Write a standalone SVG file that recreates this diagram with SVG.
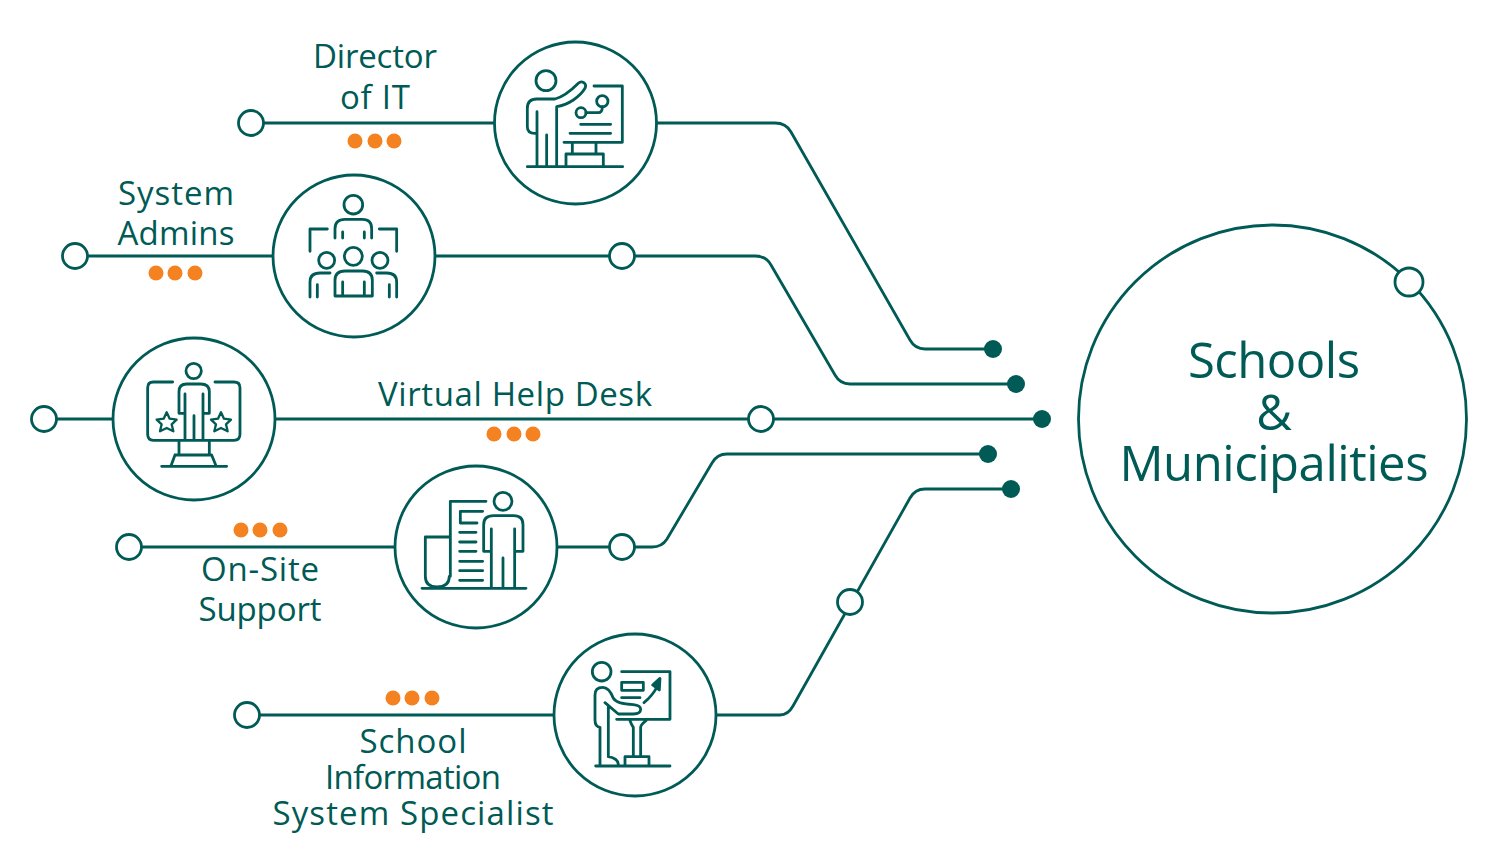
<svg xmlns="http://www.w3.org/2000/svg" width="1500" height="854" viewBox="0 0 1500 854">
<style>
.c{fill:none;stroke:#005a55;stroke-width:2.8}
.o{fill:#fff;stroke:#005a55;stroke-width:2.8}
.n{fill:#fff;stroke:#005a55;stroke-width:2.8}
.d{fill:#005a55}
.p{fill:#f58220}
.i{fill:none;stroke:#005a55;stroke-width:8.4;stroke-linecap:round;stroke-linejoin:round}
text{font-family:"Open Sans","Noto Sans","Liberation Sans",sans-serif;fill:#005a55;text-anchor:middle;font-size:33px}
.b{font-size:49px}
</style>
<rect width="1500" height="854" fill="#fff"/>
<g id="connectors">
<path class="c" d="M251 123H494M657 123H775Q786 123 791 132L910 340Q915 349 925 349H993"/>
<path class="c" d="M75 256H273M436 256H755Q766 256 771 265L835 375Q840 384 850 384H1016"/>
<path class="c" d="M44 419H113M275 419H1042"/>
<path class="c" d="M129 547H395M557 547H652Q662 547 667 539L712 463Q717 454 727 454H988"/>
<path class="c" d="M247 715H554M716 715H780Q788 715 793 706L910 498Q915 489 925 489H1011"/>
<circle class="d" cx="993" cy="349" r="9"/><circle class="d" cx="1016" cy="384" r="9"/><circle class="d" cx="1042" cy="419" r="9"/><circle class="d" cx="988" cy="454" r="9"/><circle class="d" cx="1011" cy="489" r="9"/>
<circle class="o" cx="251" cy="123" r="12.5"/><circle class="o" cx="75" cy="256" r="12.5"/><circle class="o" cx="622" cy="256" r="12.5"/><circle class="o" cx="44" cy="419" r="12.5"/><circle class="o" cx="761" cy="419" r="12.5"/><circle class="o" cx="129" cy="547" r="12.5"/><circle class="o" cx="622" cy="547" r="12.5"/><circle class="o" cx="247" cy="715" r="12.5"/><circle class="o" cx="850" cy="602" r="12.5"/>
</g>
<g id="schools">
<circle class="n" cx="1272.500" cy="419" r="194"/>
<circle class="o" cx="1409" cy="282" r="14"/>
<text class="b" x="1274" y="378" textLength="172">Schools</text><text class="b" x="1274" y="430">&amp;</text><text class="b" x="1274" y="481" textLength="309">Municipalities</text>
</g>
<g id="director">
<circle class="n" cx="575.500" cy="123" r="81"/>
<g class="i" transform="translate(490 40) scale(.3333)">
<circle cx="168" cy="122" r="30"/>
<path d="M135 280Q112 280 112 260V205Q112 177 140 177H195C225 170 250 145 265 130C275 120 292 130 285 145C270 170 235 195 200 200V378M141 215V378M170 285V378M312 138H397V307H222M288 218H325Q337 218 337 200M272 253H362M240 280H362M247 310V340M318 310V340M228 378V342H340V378M112 380H398"/>
<circle cx="337" cy="184" r="17"/><circle cx="273" cy="218" r="15"/>
</g>
<text x="375" y="68" textLength="124">Director</text><text x="375" y="109" textLength="70">of IT</text>
<circle class="p" cx="355" cy="141" r="7.500"/><circle class="p" cx="375" cy="141" r="7.500"/><circle class="p" cx="394" cy="141" r="7.500"/>
</g>
<g id="sysadmins">
<circle class="n" cx="354" cy="256" r="81"/>
<g class="i" transform="translate(270 172) scale(.3333)">
<circle cx="250" cy="98" r="28"/><circle cx="250" cy="253" r="27"/><circle cx="170" cy="265" r="24"/><circle cx="330" cy="265" r="24"/>
<path d="M195 198V170Q195 142 225 142H278Q305 142 305 170V198M218 180V198M283 180V198M172 171H120V238M328 171H380V238M195 372V325Q195 297 225 297H278Q307 297 307 325V372ZM218 330V372M283 330V372M180 303H150Q120 303 120 330V375M142 338V375M320 303H350Q380 303 380 330V375M358 338V375"/>
</g>
<text x="176" y="205" textLength="116">System</text><text x="176" y="245" textLength="117">Admins</text>
<circle class="p" cx="156" cy="273" r="7.500"/><circle class="p" cx="175" cy="273" r="7.500"/><circle class="p" cx="195" cy="273" r="7.500"/>
</g>
<g id="helpdesk">
<circle class="n" cx="194" cy="419" r="81"/>
<g class="i" transform="translate(110 335) scale(.3333)">
<circle cx="251" cy="108" r="23"/>
<path d="M222 235H207V170Q207 147 230 147H272Q298 147 298 170V235H280M225 177V312M279 177V312M252 242V312M188 141H130Q113 141 113 158V298Q113 316 130 316H372Q390 316 390 298V158Q390 141 372 141H315M207 318V358M298 318V358M195 360H305L318 392M195 360L183 392M155 394H350"/>
<path stroke-width="7" d="M170 232L179 251L200 254L185 268L190 289L170 279L150 289L155 268L140 254L161 251Z"/>
<path stroke-width="7" d="M333 232L342 251L363 254L348 268L353 289L333 279L313 289L318 268L303 254L324 251Z"/>
</g>
<text x="515" y="406" textLength="274">Virtual Help Desk</text>
<circle class="p" cx="494" cy="434" r="7.500"/><circle class="p" cx="514" cy="434" r="7.500"/><circle class="p" cx="533" cy="434" r="7.500"/>
</g>
<g id="onsite">
<circle class="n" cx="476" cy="547" r="81"/>
<g class="i" transform="translate(392 463) scale(.3333)">
<circle cx="333" cy="115" r="27"/>
<path d="M298 265H275V185Q275 158 305 158H365Q393 158 393 185V265H370M298 198V375M368 198V375M333 285V375M282 115H175V340M175 222H100V340Q100 372 135 372Q172 372 172 340M90 376H402M272 145H205V180H255M203 208H252M203 237H252M203 265H252M203 295H272M203 323H272M203 352H272"/>
</g>
<text x="260" y="581" textLength="118">On-Site</text><text x="260" y="621" textLength="123">Support</text>
<circle class="p" cx="241" cy="530" r="7.500"/><circle class="p" cx="260" cy="530" r="7.500"/><circle class="p" cx="280" cy="530" r="7.500"/>
</g>
<g id="specialist">
<circle class="n" cx="635" cy="715" r="81"/>
<g class="i" transform="translate(550 630) scale(.3333)">
<circle cx="155" cy="125" r="28"/><rect x="215" y="157" width="65" height="24"/>
<path d="M150 292Q135 290 135 270V195Q135 172 158 172Q178 172 190 205Q200 222 250 224Q272 226 272 238Q272 252 250 252H205L165 218M150 292V405M175 230V380Q205 385 205 405M215 125H360V268H200M215 203H270M282 218Q305 200 322 170M240 272Q245 285 250 292V378M272 378V292Q272 285 288 272M225 405V380H297V405M137 408H360"/>
<path fill="#005a55" d="M330 145L308 165L328 180Z"/>
</g>
<text x="413" y="753" textLength="107">School</text><text x="413" y="789" textLength="176">Information</text><text x="413" y="825" textLength="281">System Specialist</text>
<circle class="p" cx="393" cy="698" r="7.500"/><circle class="p" cx="412" cy="698" r="7.500"/><circle class="p" cx="432" cy="698" r="7.500"/>
</g>
</svg>
